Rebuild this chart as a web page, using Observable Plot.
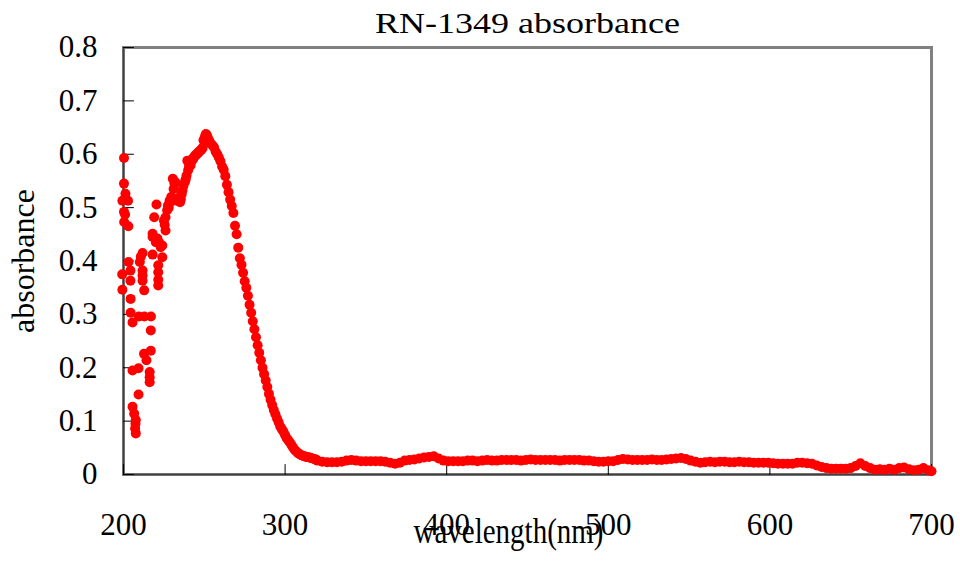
<!DOCTYPE html>
<html><head><meta charset="utf-8">
<script src="https://cdn.jsdelivr.net/npm/d3@7"></script>
<script src="https://cdn.jsdelivr.net/npm/@observablehq/plot@0.6"></script>
<style>body{margin:0;background:#fff}</style>
</head><body><div id="chart"></div>
<script>
const titleText = "RN-1349 absorbance";
const xLabel = "wavelength(nm)";
const yLabel = "absorbance";
const xTicks = [200, 300, 400, 500, 600, 700];
const xTickLabels = ["200", "300", "400", "500", "600", "700"];
const yTicks = [0, 0.1, 0.2, 0.3, 0.4, 0.5, 0.6, 0.7, 0.8];
const yTickLabels = ["0", "0.1", "0.2", "0.3", "0.4", "0.5", "0.6", "0.7", "0.8"];

// noisy region below ~225 nm
const scatterWl = [200.3,200.3,201.2,199.3,202.8,200.3,201,200.4,203,203.1,204.3,199.2,204.3,199.3,204.4,204.4,205.6,205.6,209.3,209.3,205.6,206.6,207.6,207.4,207.2,207.6,
  209.5,210.1,210.7,211.8,211.8,211.8,211.8,212.8,212.9,212.7,214.2,216.2,216.2,216.2,217,216.9,216.9,
  218,218,218,219,220.4,221,220,221.5,221.5,221.5,221.5,222,223,224,224];
const scatterAbs = [0.593,0.545,0.526,0.513,0.513,0.492,0.487,0.473,0.465,0.398,0.382,0.375,0.363,0.346,0.329,0.303,0.285,0.195,0.199,0.150,0.127,0.114,0.102,0.095,0.086,0.077,
  0.296,0.398,0.408,0.415,0.382,0.373,0.363,0.345,0.296,0.226,0.214,0.192,0.182,0.173,0.296,0.270,0.232,
  0.412,0.451,0.445,0.482,0.506,0.442,0.435,0.392,0.379,0.365,0.354,0.435,0.426,0.407,0.429];

// rise to the peak
const riseWl = [225,225.5,226,226,227,227.5,228,228.5,229,229.5,230,230.5,231,231.5,232,233,234,235,235.5,236,236.5,237,
  238,238.5,239,239.5,240,240.5,241,241.5,242,242.5,243,243.5,244,244.5,245,245.5,246,246.5,247,247.5,248,248.5,249,249.5,250,250.5,251,251.5];
const riseAbs = [0.476,0.468,0.457,0.482,0.495,0.504,0.500,0.513,0.510,0.520,0.515,0.554,0.535,0.545,0.548,0.513,0.518,0.510,0.515,0.525,0.532,0.540,
  0.548,0.553,0.560,0.588,0.570,0.576,0.580,0.579,0.586,0.591,0.590,0.594,0.596,0.598,0.599,0.601,0.602,0.604,0.605,0.607,0.608,0.610,0.612,0.626,0.629,0.634,0.638,0.636];

// fall after the peak
const fallWl = [252,253,254,255,256,257,258,259,260,261,262,263,264,265,266,267,268,269,270,271,272,273,274,275,276,277,278,279,280,
  281,282,283,284,285,286,287,288,289,290,291,292,293,294,295,296,297,298,299,300,301,302,303,304,305,306,307,308,309,310,
  311,312,313,314,315,316,317,318,319,320];
const fallAbs = [0.632,0.626,0.620,0.617,0.613,0.605,0.600,0.594,0.587,0.577,0.571,0.559,0.543,0.529,0.515,0.503,0.490,0.466,0.450,0.425,0.405,0.393,0.378,0.362,0.350,0.335,0.318,0.303,0.287,
  0.272,0.257,0.242,0.228,0.214,0.200,0.188,0.176,0.164,0.151,0.140,0.130,0.121,0.113,0.105,0.098,0.090,0.085,0.080,0.074,0.068,0.064,0.060,0.055,0.050,0.046,0.043,0.040,0.038,0.036,
  0.035,0.034,0.033,0.033,0.032,0.031,0.030,0.029,0.028,0.026];

// flat tail
const flatWl = [323,326,329,332,335,338,341,344,347,350,353,356,359,362,365,368,371,374,377,380,383,386,389,392,395,398,
  401,404,407,410,413,416,419,422,425,428,431,434,437,440,443,446,449,452,455,458,461,464,467,470,473,476,479,482,485,488,491,494,497,
  500,503,506,509,512,515,518,521,524,527,530,533,536,539,542,545,548,551,554,557,560,563,566,569,572,575,578,581,584,587,590,593,596,599,
  602,605,608,611,614,617,620,623,626,629,632,635,638,641,644,647,650,653,656,659,662,665,668,671,674,677,680,683,686,689,692,695,698,700];
const flatAbs = [0.024,0.023,0.023,0.023,0.024,0.026,0.027,0.026,0.025,0.025,0.025,0.025,0.025,0.024,0.022,0.020,0.022,0.026,0.027,0.028,0.030,0.032,0.033,0.034,0.030,0.026,
  0.025,0.025,0.025,0.025,0.026,0.026,0.025,0.026,0.027,0.026,0.026,0.027,0.027,0.027,0.027,0.026,0.027,0.028,0.027,0.027,0.027,0.027,0.027,0.026,0.027,0.027,0.027,0.027,0.026,0.026,0.025,0.024,0.024,
  0.025,0.025,0.027,0.029,0.028,0.027,0.027,0.027,0.027,0.028,0.027,0.027,0.028,0.029,0.030,0.031,0.029,0.026,0.024,0.022,0.023,0.024,0.023,0.024,0.024,0.023,0.023,0.024,0.023,0.023,0.022,0.022,0.022,0.022,
  0.021,0.020,0.020,0.020,0.020,0.022,0.022,0.021,0.020,0.017,0.014,0.012,0.011,0.011,0.011,0.011,0.012,0.016,0.021,0.016,0.012,0.009,0.010,0.009,0.011,0.009,0.012,0.013,0.010,0.008,0.009,0.012,0.008,0.006];

const wl = [...scatterWl, ...riseWl, ...fallWl, ...flatWl];
const ab = [...scatterAbs, ...riseAbs, ...fallAbs, ...flatAbs];
const data = wl.map((w, i) => ({w, a: ab[i]}));

const tickShape = {draw(context, l) { context.moveTo(0, 0); context.lineTo(0, -l); }};
const serif = '"Liberation Serif","Times New Roman",serif';

const chart = Plot.plot({
  width: 960, height: 565,
  marginLeft: 123, marginRight: 29, marginTop: 47, marginBottom: 91,
  style: {fontFamily: serif, background: "white", color: "black", overflow: "visible"},
  x: {domain: [200, 700]},
  y: {domain: [0, 0.8]},
  marks: [
    Plot.frame({stroke: "#808080", strokeWidth: 3}),
    Plot.ruleX([200], {stroke: "#404040", strokeWidth: 1.5}),
    Plot.ruleY([0], {stroke: "#404040", strokeWidth: 1.5}),
    Plot.vector(xTicks, {x: d => d, frameAnchor: "bottom", length: 10, rotate: 0, anchor: "start", shape: tickShape, stroke: "black", strokeWidth: 1}),
    Plot.vector(yTicks, {y: d => d, frameAnchor: "left", length: 10, rotate: 90, anchor: "start", shape: tickShape, stroke: "black", strokeWidth: 1}),
    Plot.axisX({ticks: xTicks, tickSize: 0, tickPadding: 38, fontSize: 31, label: null, tickFormat: (d, i) => xTickLabels[i]}),
    Plot.axisY({ticks: yTicks, tickSize: 0, tickPadding: 26, fontSize: 31, label: null, tickFormat: (d, i) => yTickLabels[i]}),
    Plot.text([titleText], {text: d => d, frameAnchor: "top", textAnchor: "middle", dy: -15, lineAnchor: "bottom", fontSize: 30}),
    Plot.text([xLabel], {text: d => d, frameAnchor: "bottom", textAnchor: "middle", dx: -19, dy: 68, lineAnchor: "bottom", fontSize: 35}),
    Plot.text([yLabel], {text: d => d, frameAnchor: "left", textAnchor: "middle", dx: -90, rotate: -90, lineAnchor: "bottom", fontSize: 32}),
    Plot.dot(data, {x: "w", y: "a", r: 5, fill: "#ff0000", stroke: "none"})
  ]
});
document.getElementById("chart").appendChild(chart);

d3.select(chart).selectAll("text").each(function() {
  const t = this.textContent;
  if (t === titleText) { this.setAttribute("textLength", 305); this.setAttribute("lengthAdjust", "spacingAndGlyphs"); }
  if (t === xLabel) { this.setAttribute("textLength", 190); this.setAttribute("lengthAdjust", "spacingAndGlyphs"); }
});
</script>
</body></html>
